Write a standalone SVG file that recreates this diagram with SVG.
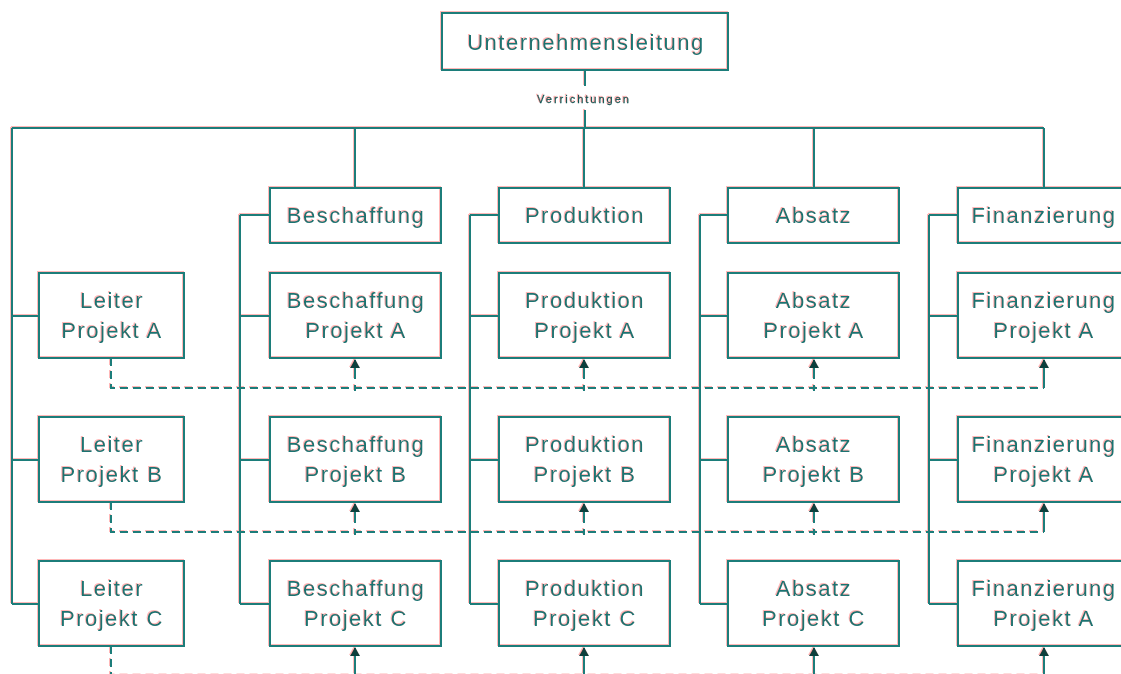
<svg xmlns="http://www.w3.org/2000/svg" width="1121" height="674" viewBox="0 0 1121 674">
  <style>
    .box { fill: none; stroke: #1e7d7a; stroke-width: 2; }
    .ln { fill: none; stroke: #1e7d7a; stroke-width: 2; }
    .dash { fill: none; stroke: #1e7d7a; stroke-width: 2; stroke-dasharray: 8 5; }
    .stem { fill: none; stroke: #1e7d7a; stroke-width: 2; marker-end: url(#arr); }
    .t { font-family: "Liberation Sans", Arial, sans-serif; font-size: 22px; letter-spacing: 1.5px; fill: #1b7371; text-anchor: middle; }
    .s { font-family: "Liberation Sans", Arial, sans-serif; font-size: 11px; letter-spacing: 2px; fill: #0f5553; stroke: #0f5553; stroke-width: 0.3; text-anchor: middle; }
  </style>
  <defs>
    <marker id="arr" markerUnits="userSpaceOnUse" markerWidth="10" markerHeight="12" refX="8" refY="5" orient="auto">
      <path d="M0,0 L9,5 L0,10 Z" fill="#0b3f3c"/>
    </marker>
    <!-- colour fringe: soft red copy shifted up-left -->
    <filter id="fringe" x="-2%" y="-2%" width="104%" height="104%">
      <feOffset in="SourceAlpha" dx="-1" dy="-1" result="o"/>
      <feFlood flood-color="#ff7070" flood-opacity="0.5"/>
      <feComposite in2="o" operator="in" result="red"/>
      <feMerge><feMergeNode in="red"/><feMergeNode in="SourceGraphic"/></feMerge>
    </filter>
  </defs>
  <rect width="1121" height="674" fill="#ffffff"/>
  <g filter="url(#fringe)">
    <g id="connectors">
      <!-- top line and label gap -->
      <path class="ln" d="M585,70 V86 M585,110 V128"/>
      <text class="s" x="584" y="103">Verrichtungen</text>
      <path class="ln" d="M12,128 H1044 M355,128 V188 M584,128 V188 M814,128 V188 M1044,128 V188"/>
      <!-- project leader bus -->
      <path class="ln" d="M12,128 V604 M12,316 H39 M12,460 H39 M12,604 H39"/>
      <!-- function buses -->
      <path class="ln" d="M240,215 V604 M240,215 H270 M240,316 H270 M240,460 H270 M240,604 H270"/>
      <path class="ln" d="M470,215 V604 M470,215 H499 M470,316 H499 M470,460 H499 M470,604 H499"/>
      <path class="ln" d="M700,215 V604 M700,215 H728 M700,316 H728 M700,460 H728 M700,604 H728"/>
      <path class="ln" d="M929,215 V604 M929,215 H958 M929,316 H958 M929,460 H958 M929,604 H958"/>
      <!-- project links -->
      <path class="dash" d="M111,358 V388 H1044"/>
      <path class="dash" d="M111,502 V532 H1044"/>
      <path class="dash" d="M111,646 V675.5 H1044"/>
      <!-- arrows to project boxes -->
      <path class="stem" d="M355,391 V385 M355,379 V360"/>
      <path class="stem" d="M584,391 V385 M584,379 V360"/>
      <path class="stem" d="M814,391 V385 M814,379 V360"/>
      <path class="stem" d="M1044,388 V360"/>
      <path class="stem" d="M355,535 V529 M355,523 V504"/>
      <path class="stem" d="M584,535 V529 M584,523 V504"/>
      <path class="stem" d="M814,535 V529 M814,523 V504"/>
      <path class="stem" d="M1044,532 V504"/>
      <path class="stem" d="M355,674 V648"/>
      <path class="stem" d="M584,674 V648"/>
      <path class="stem" d="M814,674 V648"/>
      <path class="stem" d="M1044,674 V648"/>
    </g>

    <g id="unternehmensleitung">
      <rect class="box" x="442" y="13" width="286" height="57"/>
      <text class="t" x="586" y="50">Unternehmensleitung</text>
    </g>

    <g id="leiter-a"><rect class="box" x="39" y="273" width="145" height="85"/>
      <text class="t" x="112" y="308">Leiter</text><text class="t" x="112" y="338">Projekt A</text></g>
    <g id="leiter-b"><rect class="box" x="39" y="417" width="145" height="85"/>
      <text class="t" x="112" y="452">Leiter</text><text class="t" x="112" y="482">Projekt B</text></g>
    <g id="leiter-c"><rect class="box" x="39" y="561" width="145" height="85"/>
      <text class="t" x="112" y="596">Leiter</text><text class="t" x="112" y="626">Projekt C</text></g>

    <g id="beschaffung"><rect class="box" x="270" y="188" width="171" height="55"/>
      <text class="t" x="356" y="223">Beschaffung</text></g>
    <g id="beschaffung-a"><rect class="box" x="270" y="273" width="171" height="85"/>
      <text class="t" x="356" y="308">Beschaffung</text><text class="t" x="356" y="338">Projekt A</text></g>
    <g id="beschaffung-b"><rect class="box" x="270" y="417" width="171" height="85"/>
      <text class="t" x="356" y="452">Beschaffung</text><text class="t" x="356" y="482">Projekt B</text></g>
    <g id="beschaffung-c"><rect class="box" x="270" y="561" width="171" height="85"/>
      <text class="t" x="356" y="596">Beschaffung</text><text class="t" x="356" y="626">Projekt C</text></g>

    <g id="produktion"><rect class="box" x="499" y="188" width="171" height="55"/>
      <text class="t" x="585" y="223">Produktion</text></g>
    <g id="produktion-a"><rect class="box" x="499" y="273" width="171" height="85"/>
      <text class="t" x="585" y="308">Produktion</text><text class="t" x="585" y="338">Projekt A</text></g>
    <g id="produktion-b"><rect class="box" x="499" y="417" width="171" height="85"/>
      <text class="t" x="585" y="452">Produktion</text><text class="t" x="585" y="482">Projekt B</text></g>
    <g id="produktion-c"><rect class="box" x="499" y="561" width="171" height="85"/>
      <text class="t" x="585" y="596">Produktion</text><text class="t" x="585" y="626">Projekt C</text></g>

    <g id="absatz"><rect class="box" x="728" y="188" width="171" height="55"/>
      <text class="t" x="814" y="223">Absatz</text></g>
    <g id="absatz-a"><rect class="box" x="728" y="273" width="171" height="85"/>
      <text class="t" x="814" y="308">Absatz</text><text class="t" x="814" y="338">Projekt A</text></g>
    <g id="absatz-b"><rect class="box" x="728" y="417" width="171" height="85"/>
      <text class="t" x="814" y="452">Absatz</text><text class="t" x="814" y="482">Projekt B</text></g>
    <g id="absatz-c"><rect class="box" x="728" y="561" width="171" height="85"/>
      <text class="t" x="814" y="596">Absatz</text><text class="t" x="814" y="626">Projekt C</text></g>

    <g id="finanzierung"><rect class="box" x="958" y="188" width="171" height="55"/>
      <text class="t" x="1044" y="223">Finanzierung</text></g>
    <g id="finanzierung-a"><rect class="box" x="958" y="273" width="171" height="85"/>
      <text class="t" x="1044" y="308">Finanzierung</text><text class="t" x="1044" y="338">Projekt A</text></g>
    <g id="finanzierung-b"><rect class="box" x="958" y="417" width="171" height="85"/>
      <text class="t" x="1044" y="452">Finanzierung</text><text class="t" x="1044" y="482">Projekt A</text></g>
    <g id="finanzierung-c"><rect class="box" x="958" y="561" width="171" height="85"/>
      <text class="t" x="1044" y="596">Finanzierung</text><text class="t" x="1044" y="626">Projekt A</text></g>
  </g>
</svg>
